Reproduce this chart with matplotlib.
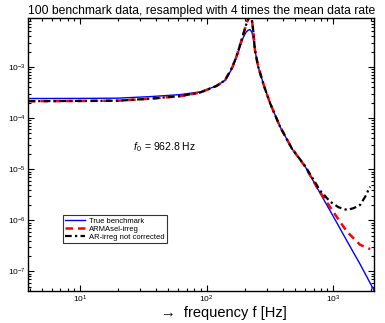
import numpy as np
import matplotlib
matplotlib.use('Agg')
import matplotlib.pyplot as plt

plt.rcParams['font.family'] = ['Liberation Sans', 'DejaVu Sans']
plt.rcParams['mathtext.fontset'] = 'custom'
plt.rcParams['mathtext.rm'] = 'Liberation Sans'
plt.rcParams['mathtext.it'] = 'Liberation Sans:italic'

# spectra (frequency in Hz, log10 of PSD)
f_true = [3.9, 10, 20, 36, 62, 89, 120, 140, 160, 173, 185, 195, 205, 213, 221, 228, 234, 241, 256, 285,
          318, 381, 471, 601, 789, 1000, 1282, 1633, 2110]
lp_true = [-3.617, -3.615, -3.61, -3.58, -3.54, -3.488, -3.37, -3.26, -3.02, -2.80, -2.58, -2.42, -2.32,
           -2.28, -2.27, -2.32, -2.45, -2.67, -3.0, -3.38, -3.714, -4.171, -4.592, -4.951, -5.47, -5.92,
           -6.40, -6.86, -7.377]

f_arma = [3.9, 10, 20, 36, 62, 89, 120, 140, 160, 173, 185, 195, 205, 213, 221, 228, 234, 241, 256, 285,
          318, 381, 471, 601, 743, 946, 1282, 1633, 1958]
lp_arma = [-3.669, -3.665, -3.66, -3.62, -3.57, -3.50, -3.37, -3.26, -3.00, -2.78, -2.55, -2.36, -2.18,
           -2.06, -2.0, -2.08, -2.30, -2.67, -3.0, -3.38, -3.714, -4.171, -4.592, -4.951, -5.35, -5.744,
           -6.22, -6.479, -6.563]

f_ar = [3.9, 10, 20, 36, 62, 89, 120, 140, 160, 173, 185, 195, 205, 213, 221, 228, 234, 241, 256, 285,
        318, 381, 471, 601, 698, 789, 946, 1101, 1282, 1449, 1633, 1791, 1958]
lp_ar = [-3.669, -3.665, -3.66, -3.62, -3.57, -3.50, -3.37, -3.26, -3.00, -2.78, -2.55, -2.36, -2.18,
         -2.06, -2.0, -2.08, -2.30, -2.67, -3.0, -3.38, -3.714, -4.171, -4.592, -4.94, -5.20, -5.42,
         -5.634, -5.744, -5.796, -5.763, -5.699, -5.537, -5.341]

fig = plt.figure(figsize=(3.85, 3.23), dpi=100)
ax = fig.add_axes([0.074, 0.1, 0.898, 0.843])

ax.loglog(f_true, 10 ** np.array(lp_true), color='#0000ff', lw=1.0, label='True benchmark')
ax.loglog(f_arma, 10 ** np.array(lp_arma), color='#ff0000', lw=1.8, ls=(0, (3, 2)), label='ARMAsel-irreg')
ax.loglog(f_ar, 10 ** np.array(lp_ar), color='black', lw=1.6, ls=(0, (3, 1.5, 1, 1.5)),
          label='AR-irreg not corrected')

ax.set_xlim(3.92, 2110)
ax.set_ylim(10 ** -7.377, 10 ** -2.05)

ax.tick_params(which='both', direction='in', top=True, right=True, labelsize=6, width=0.8, pad=2)
ax.tick_params(which='major', length=4)
ax.tick_params(which='minor', length=2)
for s in ax.spines.values():
    s.set_linewidth(1.0)

ax.set_title('100 benchmark data, resampled with 4 times the mean data rate', fontsize=8.7, pad=3)
ax.set_xlabel('\u2192  frequency f [Hz]', fontsize=10.5)
ax.xaxis.set_label_coords(0.565, -0.058)
ax.text(0.303, 0.516, r'$f_{\,0}$ = 962.8 Hz', transform=ax.transAxes, fontsize=7.5)

leg = ax.legend(loc='lower left', bbox_to_anchor=(0.1, 0.175), fontsize=5.5, handlelength=2.6,
                frameon=True, fancybox=False, edgecolor='black', borderpad=0.3, labelspacing=0.1,
                handletextpad=0.5, borderaxespad=0)
leg.get_frame().set_linewidth(0.8)

fig.savefig('out.png', dpi=100)
